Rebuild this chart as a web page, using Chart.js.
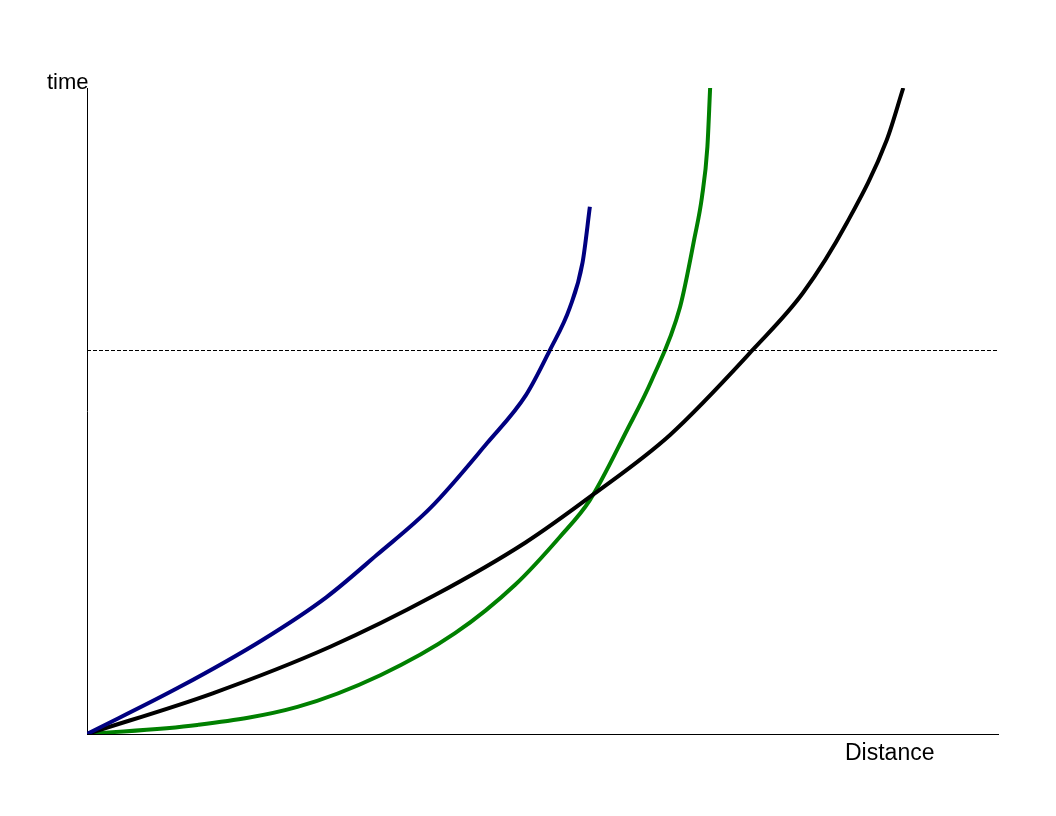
<!DOCTYPE html>
<html>
<head>
<meta charset="utf-8">
<script src="https://cdn.jsdelivr.net/npm/chart.js@4"></script>
<style>
  html, body { margin: 0; padding: 0; background: #fff; }
  #wrap { width: 1056px; height: 816px; }
</style>
</head>
<body>
<div id="wrap"><canvas id="chart"></canvas></div>
<script>
// values (arbitrary units, 0..100 on both axes)
const blueX  = [0, 10.2, 19.3, 26.3, 31.8, 37.7, 43.9, 48.2, 50.8, 53.0, 54.4, 55.2];
const blueY  = [0, 7.3, 14.6, 21.2, 27.7, 35.0, 45.0, 52.5, 59.4, 66.0, 73.0, 81.6];
const blackX = [0, 13.8, 26.7, 38.2, 48.1, 55.5, 64.0, 73.3, 78.6, 83.4, 87.8, 89.6];
const blackY = [0, 6.3, 13.5, 21.5, 29.6, 37.0, 46.3, 59.8, 68.3, 79.1, 92.0, 100];
const greenX = [0, 12.1, 23.1, 32.2, 40.4, 47.0, 51.9, 55.2, 59.3, 62.0, 65.1, 66.7, 67.5, 68.1, 68.4];
const greenY = [0, 1.4, 4.2, 9.1, 15.6, 23.1, 30.5, 36.2, 47.1, 54.8, 66.1, 76.9, 83.1, 90.9, 100];
const dashedLevel = 59.4;
const xLabel = 'Distance';
const yLabel = 'time';

function toPoints(xs, ys) {
    return xs.map((x, i) => ({ x: x, y: ys[i] }));
}

// dashed reference line + axis titles
const extras = {
    id: 'extras',
    afterDatasetsDraw(chart) {
        const { ctx, chartArea, scales } = chart;
        const y = Math.round(scales.y.getPixelForValue(dashedLevel)) + 0.5;
        ctx.save();
        ctx.strokeStyle = '#000';
        ctx.lineWidth = 1;
        ctx.setLineDash([4, 2]);
        ctx.beginPath();
        ctx.moveTo(chartArea.left, y);
        ctx.lineTo(chartArea.right, y);
        ctx.stroke();
        ctx.setLineDash([]);

        ctx.fillStyle = '#000';
        ctx.font = '22px "Liberation Sans", Arial, sans-serif';
        ctx.textBaseline = 'alphabetic';
        ctx.textAlign = 'left';
        ctx.fillText(yLabel, 47, 89);
        ctx.font = '23px "Liberation Sans", Arial, sans-serif';
        ctx.fillText(xLabel, 845, 760);
        ctx.restore();
    }
};

const lineStyle = {
    borderWidth: 4,
    pointRadius: 0,
    cubicInterpolationMode: 'monotone',
    borderJoinStyle: 'round'
};

new Chart(document.getElementById('chart'), {
    type: 'line',
    data: {
        datasets: [
            Object.assign({ data: toPoints(blueX, blueY), borderColor: '#000080' }, lineStyle),
            Object.assign({ data: toPoints(blackX, blackY), borderColor: '#000000' }, lineStyle),
            Object.assign({ data: toPoints(greenX, greenY), borderColor: '#008000' }, lineStyle)
        ]
    },
    options: {
        responsive: true,
        maintainAspectRatio: false,
        animation: false,
        layout: { padding: { left: 79, right: 58, top: 88, bottom: 74 } },
        plugins: {
            legend: { display: false },
            tooltip: { enabled: false }
        },
        scales: {
            x: {
                type: 'linear',
                min: 0,
                max: 100,
                ticks: { display: false },
                grid: { display: false },
                border: { display: true, color: '#000', width: 1 }
            },
            y: {
                type: 'linear',
                min: 0,
                max: 100,
                ticks: { display: false },
                grid: { display: false },
                border: { display: true, color: '#000', width: 1 }
            }
        }
    },
    plugins: [extras]
});
</script>
</body>
</html>
